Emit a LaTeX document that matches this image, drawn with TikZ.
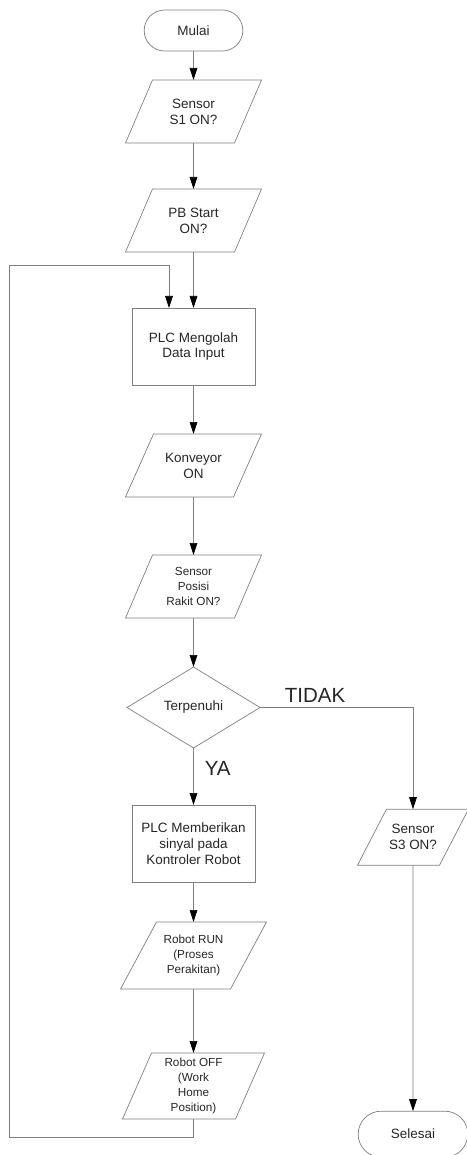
\documentclass[tikz,border=0pt]{standalone}
\usepackage{fontspec}
\setmainfont{Liberation Sans}
\usepackage{tikz}
\usetikzlibrary{shapes,arrows.meta,positioning,calc}

\begin{document}
\begin{tikzpicture}[
    node distance=1.2cm,
    outline/.style={draw=black!50, line width=0.6pt},
    base/.style={outline, outer sep=0pt, inner sep=1pt, align=center, text=black!85, font=\fontsize{11.5}{13.6}\selectfont},
    small/.style={font=\fontsize{10}{12.8}\selectfont},
    terminal/.style={base, rounded rectangle, minimum width=3.03cm, minimum height=1.23cm},
    box/.style={base, rectangle, minimum width=3.69cm, minimum height=2.31cm},
    io/.style={base, draw=none, rectangle, minimum width=4.08cm, minimum height=1.89cm,
        append after command={\pgfextra{\draw[outline] ([xshift=#1]\tikzlastnode.north west) -- (\tikzlastnode.north east)
            -- ([xshift=-#1]\tikzlastnode.south east) -- (\tikzlastnode.south west) -- cycle;}}},
    io/.default=0.81cm,
    decision/.style={base, diamond, aspect=1.64, minimum width=3.99cm, minimum height=2.43cm},
    arrow/.style={outline, -{Triangle[length=3.6mm, width=2.3mm, color=black]}},
    label/.style={text=black!85, font=\fontsize{17.5}{20}\selectfont}
]
    \useasboundingbox (-5.805,0.915) rectangle (8.205,-33.735);

    \node[terminal] (mulai) at (0,0) {Mulai};
    \node[io, below=0.87cm of mulai] (sensor1) {Sensor\\S1 ON?};
    \node[io, below=1.38cm of sensor1] (pbstart) {PB Start\\ON?};
    \node[box, below=1.68cm of pbstart] (plcolah) {PLC Mengolah\\Data Input};
    \node[io=0.84cm, below=1.47cm of plcolah] (konveyor) {Konveyor\\ON};
    \node[io, small, below=1.74cm of konveyor] (posisi) {Sensor\\Posisi\\Rakit ON?};
    \node[decision, below=1.47cm of posisi] (penuh) {Terpenuhi};
    \node[box, below=1.71cm of penuh] (plcsinyal) {PLC Memberikan\\sinyal pada\\Kontroler Robot};
    \node[io=1.08cm, small, minimum width=4.38cm, minimum height=2.01cm, below=1.2cm of plcsinyal] (robotrun) {Robot RUN\\(Proses\\Perakitan)};
    \node[io=0.87cm, small, minimum width=4.26cm, minimum height=1.98cm, below=1.92cm of robotrun] (robotoff) {Robot OFF\\(Work\\Home\\Position)};

    \node[io=0.87cm, minimum width=3.33cm, minimum height=1.68cm, below=3.05cm of penuh.east, xshift=4.59cm] (sensor3) {Sensor\\S3 ON?};
    \node[terminal, minimum width=3.36cm, minimum height=1.38cm, below=7.38cm of sensor3] (selesai) {Selesai};

    \draw[arrow] (mulai) -- (sensor1);
    \draw[arrow] (sensor1) -- (pbstart);
    \draw[arrow] (pbstart) -- (plcolah);
    \draw[arrow] (plcolah) -- (konveyor);
    \draw[arrow] (konveyor) -- (posisi);
    \draw[arrow] (posisi) -- (penuh);
    \draw[arrow] (penuh) -- node[label, right=6pt, pos=0.35] {YA} (plcsinyal);
    \draw[arrow] (plcsinyal) -- (robotrun);
    \draw[arrow] (robotrun) -- (robotoff);
    \draw[arrow] (penuh.east) -| node[label, above=1pt, pos=0.18] {TIDAK} (sensor3);
    \draw[arrow] (sensor3) -- (selesai);

    % kembali ke proses PLC
    \draw[arrow] (robotoff.south) -- ++(0,-0.54) -| ([xshift=-5.535cm, yshift=1.29cm]plcolah.north) -| ([xshift=-0.735cm]plcolah.north);
\end{tikzpicture}
\end{document}
